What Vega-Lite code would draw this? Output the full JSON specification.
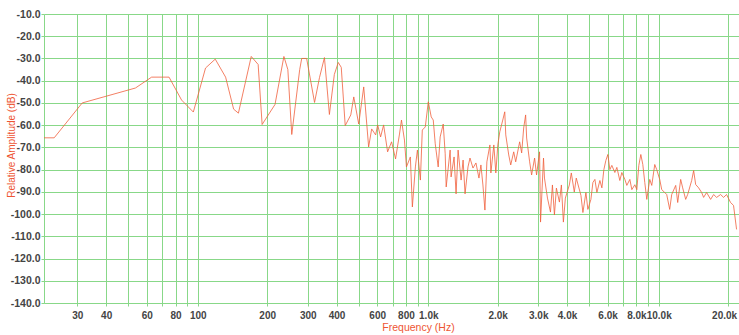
{
  "$schema": "https://vega.github.io/schema/vega-lite/v6.json",
  "width": 695,
  "height": 289,
  "autosize": {"type": "none"},
  "padding": {"left": 44, "top": 14, "right": 0, "bottom": 32},
  "background": "white",
  "config": {"view": {"stroke": null}},
  "data": {
    "values": [
      {"f": 21.5, "db": -65.7}, {"f": 23.8, "db": -65.7}, {"f": 31.5, "db": -50}, {"f": 53.6, "db": -43.3},
      {"f": 63, "db": -38.4}, {"f": 75, "db": -38.4}, {"f": 85, "db": -48.7}, {"f": 95.6, "db": -54.1},
      {"f": 108, "db": -34.3}, {"f": 119, "db": -30.3}, {"f": 132, "db": -38.4}, {"f": 143, "db": -52.8},
      {"f": 150, "db": -54.6}, {"f": 170.5, "db": -29.1}, {"f": 182.7, "db": -32.7}, {"f": 190.1, "db": -59.7},
      {"f": 216.2, "db": -50.7}, {"f": 236.3, "db": -29.1}, {"f": 245.8, "db": -35}, {"f": 255.6, "db": -64.2},
      {"f": 276.7, "db": -35}, {"f": 282.3, "db": -30}, {"f": 296.6, "db": -30}, {"f": 321, "db": -49.8},
      {"f": 337.2, "db": -38.6}, {"f": 354.3, "db": -29.6}, {"f": 372.3, "db": -55.2}, {"f": 391.1, "db": -37.2},
      {"f": 406.8, "db": -31.8}, {"f": 419.1, "db": -34}, {"f": 436, "db": -60.2}, {"f": 461, "db": -55.4},
      {"f": 475, "db": -47.3}, {"f": 499, "db": -59.5}, {"f": 524.6, "db": -42.8}, {"f": 551, "db": -69.8},
      {"f": 568, "db": -61.7}, {"f": 591, "db": -64.4}, {"f": 603, "db": -59.9}, {"f": 621, "db": -65.3},
      {"f": 640, "db": -59.9}, {"f": 666, "db": -72}, {"f": 693, "db": -67.5}, {"f": 721, "db": -75.2},
      {"f": 750, "db": -64}, {"f": 765, "db": -57.7}, {"f": 788, "db": -66.7}, {"f": 804, "db": -78.8},
      {"f": 836, "db": -74.3}, {"f": 853, "db": -96.8}, {"f": 879, "db": -78.8}, {"f": 897, "db": -71.2},
      {"f": 924, "db": -84.7}, {"f": 942, "db": -62.2}, {"f": 970.5, "db": -60.8}, {"f": 1000, "db": -49.5},
      {"f": 1030, "db": -56.3}, {"f": 1051, "db": -57.7}, {"f": 1072, "db": -68.4}, {"f": 1104, "db": -78.8},
      {"f": 1126, "db": -65.3}, {"f": 1161, "db": -59.5}, {"f": 1184, "db": -72.9}, {"f": 1196, "db": -87.8},
      {"f": 1244, "db": -71.2}, {"f": 1256, "db": -83.3}, {"f": 1294, "db": -74.3}, {"f": 1320, "db": -90.9},
      {"f": 1347, "db": -71.2}, {"f": 1388, "db": -84.7}, {"f": 1416, "db": -75.7}, {"f": 1444, "db": -90.9},
      {"f": 1487, "db": -78.8}, {"f": 1517, "db": -74.8}, {"f": 1563, "db": -79.3}, {"f": 1610, "db": -77},
      {"f": 1659, "db": -83.8}, {"f": 1692, "db": -77.9}, {"f": 1726, "db": -86.9}, {"f": 1761, "db": -98.2},
      {"f": 1796, "db": -76.5}, {"f": 1851, "db": -68.9}, {"f": 1869, "db": -81.5}, {"f": 1925, "db": -68.9},
      {"f": 1964, "db": -81.5}, {"f": 2003, "db": -68.9}, {"f": 2043, "db": -63}, {"f": 2105, "db": -57.7},
      {"f": 2147, "db": -54}, {"f": 2169, "db": -64.4}, {"f": 2234, "db": -73.4}, {"f": 2279, "db": -77.9},
      {"f": 2348, "db": -72}, {"f": 2395, "db": -76.5}, {"f": 2492, "db": -67.5}, {"f": 2542, "db": -72.5},
      {"f": 2594, "db": -61.3}, {"f": 2645, "db": -55.4}, {"f": 2672, "db": -65.8}, {"f": 2753, "db": -76.5},
      {"f": 2808, "db": -82.4}, {"f": 2893, "db": -74.8}, {"f": 2950, "db": -82.4}, {"f": 3040, "db": -72},
      {"f": 3070, "db": -103.6}, {"f": 3162, "db": -74.8}, {"f": 3193, "db": -83.8}, {"f": 3290, "db": -92.8},
      {"f": 3390, "db": -99.1}, {"f": 3457, "db": -86.9}, {"f": 3527, "db": -100.4}, {"f": 3597, "db": -88.3},
      {"f": 3707, "db": -94.6}, {"f": 3781, "db": -86.9}, {"f": 3857, "db": -103.6}, {"f": 3934, "db": -92.8},
      {"f": 4094, "db": -86.9}, {"f": 4175, "db": -81.5}, {"f": 4301, "db": -90.1}, {"f": 4387, "db": -83.8},
      {"f": 4596, "db": -91.6}, {"f": 4688, "db": -99.3}, {"f": 4831, "db": -90.3}, {"f": 4927, "db": -97.9},
      {"f": 5077, "db": -93.4}, {"f": 5180, "db": -85.8}, {"f": 5284, "db": -84.4}, {"f": 5390, "db": -90.3},
      {"f": 5554, "db": -84.9}, {"f": 5666, "db": -88.2}, {"f": 5780, "db": -80}, {"f": 5896, "db": -75.9},
      {"f": 6015, "db": -73.2}, {"f": 6136, "db": -80}, {"f": 6259, "db": -78.1}, {"f": 6450, "db": -81.3},
      {"f": 6580, "db": -79}, {"f": 6780, "db": -84.9}, {"f": 6917, "db": -81.3}, {"f": 7128, "db": -84.4},
      {"f": 7271, "db": -87.1}, {"f": 7493, "db": -84.4}, {"f": 7643, "db": -89}, {"f": 7877, "db": -86.8},
      {"f": 8035, "db": -89}, {"f": 8196, "db": -78.1}, {"f": 8361, "db": -73.2}, {"f": 8529, "db": -77.7},
      {"f": 8700, "db": -85.8}, {"f": 8875, "db": -93.4}, {"f": 9142, "db": -84.4}, {"f": 9326, "db": -87.1},
      {"f": 9610, "db": -77.7}, {"f": 9802, "db": -80}, {"f": 10100, "db": -84.4}, {"f": 10304, "db": -89},
      {"f": 10617, "db": -90.3}, {"f": 10830, "db": -91.2}, {"f": 11158, "db": -97.9}, {"f": 11384, "db": -91.2},
      {"f": 11848, "db": -87.1}, {"f": 12087, "db": -94.8}, {"f": 12452, "db": -84.4}, {"f": 12703, "db": -88.2},
      {"f": 13089, "db": -93.4}, {"f": 13352, "db": -91.2}, {"f": 13898, "db": -84.9}, {"f": 14174, "db": -80.4},
      {"f": 14462, "db": -86.7}, {"f": 14901, "db": -88.2}, {"f": 15354, "db": -90.3}, {"f": 15658, "db": -92.5},
      {"f": 16134, "db": -90.3}, {"f": 16796, "db": -93.4}, {"f": 17304, "db": -91.2}, {"f": 17832, "db": -92.5},
      {"f": 18554, "db": -91.2}, {"f": 19113, "db": -92.5}, {"f": 19699, "db": -91.2}, {"f": 20496, "db": -94.8},
      {"f": 21117, "db": -96.1}, {"f": 21766, "db": -106.9}
    ]
  },
  "mark": {"type": "line", "color": "#f0603c", "strokeWidth": 0.8, "clip": true},
  "encoding": {
    "x": {
      "field": "f",
      "type": "quantitative",
      "scale": {"type": "log", "domain": [21.5, 22300], "nice": false},
      "axis": {
        "values": [30, 40, 50, 60, 70, 80, 90, 100, 200, 300, 400, 500, 600, 700, 800, 900, 1000, 2000, 3000, 4000, 5000, 6000, 7000, 8000, 9000, 10000, 20000],
        "labelExpr": "indexof([50,70,90,500,700,900,5000,7000,9000], datum.value) >= 0 ? '' : (datum.value >= 1000 ? format(datum.value / 1000, '.1f') + 'k' : format(datum.value, 'd'))",
        "labelOverlap": false,
        "labelFlush": false,
        "labelOffset": {"condition": {"test": "datum.value == 20000", "value": -4}, "value": 0},
        "title": "Frequency (Hz)",
        "grid": true,
        "gridColor": "#88d888",
        "gridWidth": 1,
        "domainColor": "#88d888",
        "tickColor": "#88d888",
        "tickSize": 3,
        "labelFont": "Liberation Sans",
        "labelFontSize": 10,
        "labelFontWeight": "bold",
        "labelColor": "#444444",
        "labelPadding": 4,
        "titleColor": "#ee5533",
        "titleFont": "Liberation Sans",
        "titleFontSize": 10.5,
        "titleFontWeight": "normal",
        "titleX": 374,
        "titleY": 19,
        "titleBaseline": "top"
      }
    },
    "y": {
      "field": "db",
      "type": "quantitative",
      "scale": {"domain": [-140, -10], "nice": false},
      "axis": {
        "values": [-140, -130, -120, -110, -100, -90, -80, -70, -60, -50, -40, -30, -20, -10],
        "labelExpr": "'-' + format(abs(datum.value), '.1f')",
        "title": "Relative Amplitude (dB)",
        "grid": true,
        "gridColor": "#88d888",
        "gridWidth": 1,
        "domainColor": "#88d888",
        "tickColor": "#88d888",
        "tickSize": 3,
        "labelFont": "Liberation Sans",
        "labelFontSize": 10.5,
        "labelFontWeight": "bold",
        "labelColor": "#444444",
        "labelPadding": 1,
        "labelOverlap": false,
        "titleColor": "#ee5533",
        "titleFont": "Liberation Sans",
        "titleFontSize": 10,
        "titleFontWeight": "normal",
        "titleX": -33,
        "titleY": 131,
        "titleBaseline": "middle",
        "titleAlign": "center"
      }
    }
  }
}
